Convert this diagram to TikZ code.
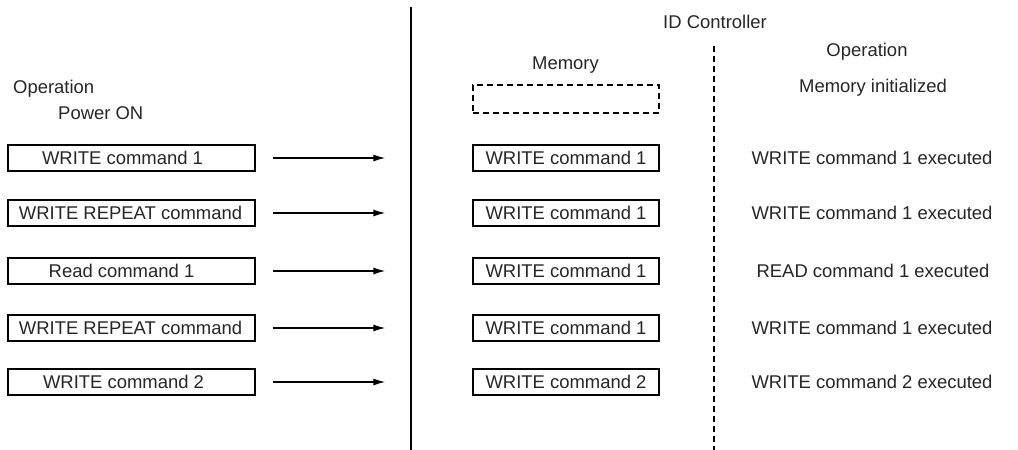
\documentclass[tikz,border=0pt]{standalone}
\usepackage{fontspec}
\setmainfont{Liberation Sans}
\usetikzlibrary{arrows.meta}
\begin{document}
\begin{tikzpicture}[x=1pt,y=-1pt,
  every node/.style={font=\fontsize{18.45}{22}\selectfont, text=black!85},
  cmdbox/.style={draw, line width=1.3pt, minimum width=247pt, minimum height=26pt, inner sep=0pt},
  membox/.style={draw, line width=1.3pt, minimum width=186pt, minimum height=26pt, inner sep=0pt},
  emptybox/.style={draw, dashed, dash pattern=on 6pt off 4pt, line width=1.3pt, minimum width=186pt, minimum height=28pt, inner sep=0pt},
  plain/.style={inner sep=0pt},
  arr/.style={line width=1.4pt, -{Latex[length=12pt,width=7pt]}, shorten <=17pt, shorten >=87pt},
  divider/.style={line width=1.6pt},
  dashdivider/.style={line width=1.6pt, dash pattern=on 6pt off 4pt}]
\useasboundingbox (0,0) rectangle (1018,450);

% dividers
\coordinate (s1) at (411,7);
\coordinate (s2) at (411,450);
\coordinate (d1) at (714,46);
\coordinate (d2) at (714,450);
\draw[divider] (s1) -- (s2);
\draw[dashdivider] (d1) -- (d2);

% headings
\node[plain, anchor=west] (opl) at (13,89) {Operation};
\node[plain, anchor=west] (pon) at (58,113) {Power ON};
\node[plain] (idc) at (715,22) {ID Controller};
\node[plain] (mem) at (565.5,65) {Memory};
\node[plain] (opr) at (867,52) {Operation};
\node[plain] (mini) at (873,88) {Memory initialized};
\node[emptybox] (m0) at (566,99) {};

% left command boxes
\node[cmdbox, label={[xshift=-9pt]center:WRITE command 1}] (l1) at (131.5,158) {};
\node[cmdbox, label={[xshift=-1pt]center:WRITE REPEAT command}] (l2) at (131.5,213) {};
\node[cmdbox, label={[xshift=-10pt]center:Read command 1}] (l3) at (131.5,271) {};
\node[cmdbox, label={[xshift=-1pt]center:WRITE REPEAT command}] (l4) at (131.5,328) {};
\node[cmdbox, label={[xshift=-8pt]center:WRITE command 2}] (l5) at (131.5,382) {};

% memory boxes
\node[membox] (m1) at (566,158) {WRITE command 1};
\node[membox] (m2) at (566,213) {WRITE command 1};
\node[membox] (m3) at (566,271) {WRITE command 1};
\node[membox] (m4) at (566,328) {WRITE command 1};
\node[membox] (m5) at (566,382) {WRITE command 2};

% operation results
\node[plain] (r1) at (872,158) {WRITE command 1 executed};
\node[plain] (r2) at (872,213) {WRITE command 1 executed};
\node[plain] (r3) at (873,271) {READ command 1 executed};
\node[plain] (r4) at (872,328) {WRITE command 1 executed};
\node[plain] (r5) at (872,382) {WRITE command 2 executed};

% arrows
\draw[arr] (l1) -- (m1);
\draw[arr] (l2) -- (m2);
\draw[arr] (l3) -- (m3);
\draw[arr] (l4) -- (m4);
\draw[arr] (l5) -- (m5);
\end{tikzpicture}
\end{document}
